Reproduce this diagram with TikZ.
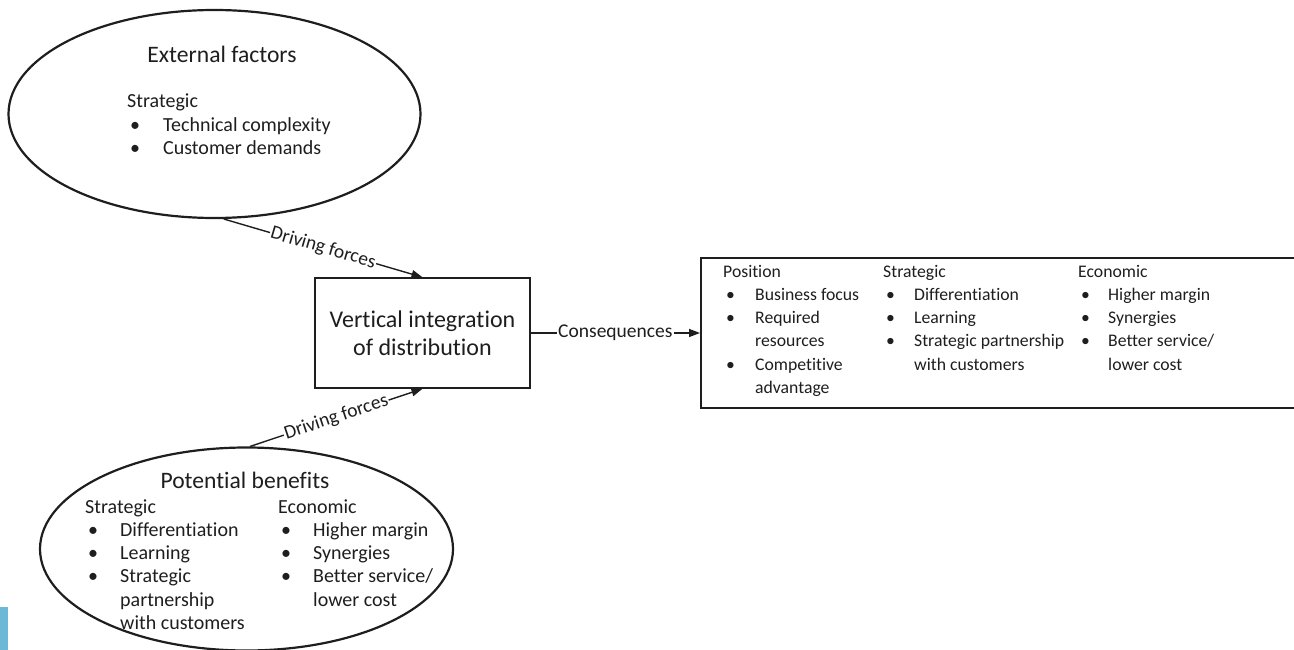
\documentclass[tikz,border=0pt]{standalone}
\usepackage{fontspec}
\setmainfont{Carlito}[Ligatures=NoCommon]
\usetikzlibrary{shapes.geometric,arrows.meta}
\definecolor{barblue}{RGB}{108,184,214}
\definecolor{ink}{RGB}{30,30,30}
\newcommand{\bul}{\hspace*{3pt}\textbullet}
\begin{document}
\begin{tikzpicture}[x=1pt,y=-1pt,
  conn/.style={line width=1.4pt,draw=ink,-{Triangle[length=11pt,width=8pt]}},
  oval/.style={ellipse,draw=ink,line width=2.2pt,inner sep=0pt},
  boxed/.style={draw=ink,line width=1.5pt,inner sep=0pt},
  lbl/.style={fill=white,inner sep=1pt,text=ink,font=\fontsize{19.5}{23.3}\selectfont,sloped},
  col/.style={anchor=base west,inner sep=0pt,text=ink,font=\fontsize{20}{23.3}\selectfont},
  colsm/.style={anchor=base west,inner sep=0pt,text=ink,font=\fontsize{17.7}{23.3}\selectfont},
  ttl/.style={anchor=base,inner sep=0pt,text=ink,font=\fontsize{23.6}{28}\selectfont}
]
\useasboundingbox (0,0) rectangle (1294,650);
\clip (0,0) rectangle (1294,650);

% shapes
\node[oval,minimum width=412pt,minimum height=208pt] (ext) at (214.5,114) {};
\node[oval,minimum width=413pt,minimum height=203pt] (ben) at (246.5,549) {};
\node[boxed,minimum width=215pt,minimum height=110pt,align=center,text=ink,
      font=\fontsize{24}{28}\selectfont] (vbox) at (422.5,333) {Vertical integration\\of distribution};
\node[boxed,minimum width=640pt,minimum height=150pt,anchor=north west] (cons) at (700,257) {};

% texts in the top ellipse
\node[ttl] (extT) at (222,63) {External factors};
\node[col] (extS) at (127,108) {\begin{tabular}[t]{@{}p{36pt}@{}l@{}}
\multicolumn{2}{@{}l@{}}{Strategic}\\
\bul & Technical complexity\\
\bul & Customer demands
\end{tabular}};

% texts in the bottom ellipse
\node[ttl] (benT) at (245,488) {Potential benefits};
\node[col] (benS) at (85,513) {\begin{tabular}[t]{@{}p{35pt}@{}l@{}}
\multicolumn{2}{@{}l@{}}{Strategic}\\
\bul & Differentiation\\
\bul & Learning\\
\bul & Strategic\\
 & partnership\\
 & with customers
\end{tabular}};
\node[col] (benE) at (278,513) {\begin{tabular}[t]{@{}p{35pt}@{}l@{}}
\multicolumn{2}{@{}l@{}}{Economic}\\
\bul & Higher margin\\
\bul & Synergies\\
\bul & Better service/\\
 & lower cost
\end{tabular}};

% texts in the consequences box
\node[colsm] (cP) at (723,277) {\begin{tabular}[t]{@{}p{32pt}@{}l@{}}
\multicolumn{2}{@{}l@{}}{Position}\\
\bul & Business focus\\
\bul & Required\\
 & resources\\
\bul & Competitive\\
 & advantage
\end{tabular}};
\node[colsm] (cS) at (883,277) {\begin{tabular}[t]{@{}p{31pt}@{}l@{}}
\multicolumn{2}{@{}l@{}}{Strategic}\\
\bul & Differentiation\\
\bul & Learning\\
\bul & Strategic partnership\\
 & with customers
\end{tabular}};
\node[colsm] (cE) at (1078,277) {\begin{tabular}[t]{@{}p{30pt}@{}l@{}}
\multicolumn{2}{@{}l@{}}{Economic}\\
\bul & Higher margin\\
\bul & Synergies\\
\bul & Better service/\\
 & lower cost
\end{tabular}};

% connectors
\draw[conn] (ext.-85) -- node[lbl] (df1) {Driving forces} (vbox.north);
\draw[conn] (ben.88) -- node[lbl] (df2) {Driving forces} (vbox.south);
\draw[conn] (vbox.east) -- node[lbl] (cq) {Consequences} (vbox.east -| cons.west);

% blue bar at the lower left edge
\fill[barblue] (0,607) rectangle (8,650);
\end{tikzpicture}
\end{document}
